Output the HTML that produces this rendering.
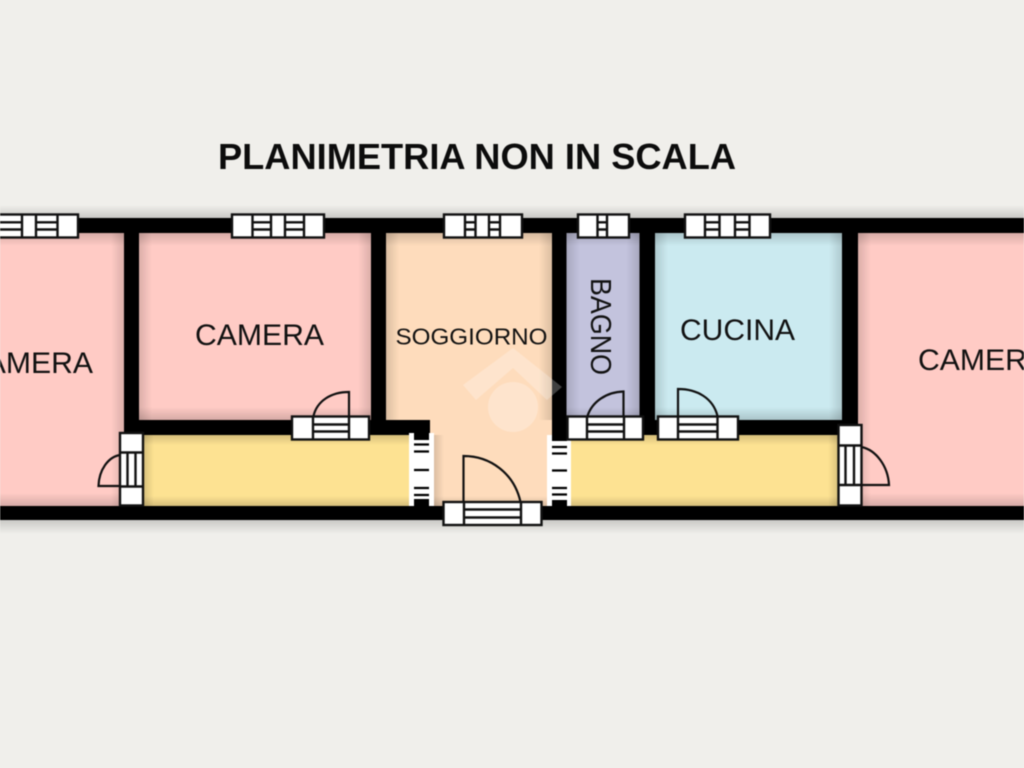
<!DOCTYPE html>
<html><head><meta charset="utf-8"><style>
html,body{margin:0;padding:0;background:#f0efeb;width:1024px;height:768px;overflow:hidden}
svg{display:block;font-family:"Liberation Sans",sans-serif;filter:blur(.45px)}
</style></head><body>
<svg width="1024" height="768" viewBox="0 0 1024 768">
<defs>
<linearGradient id="td" x1="0" y1="0" x2="0" y2="1"><stop offset="0" stop-color="#000" stop-opacity=".16"/><stop offset="1" stop-color="#000" stop-opacity="0"/></linearGradient>
<linearGradient id="tu" x1="0" y1="1" x2="0" y2="0"><stop offset="0" stop-color="#000" stop-opacity=".16"/><stop offset="1" stop-color="#000" stop-opacity="0"/></linearGradient>
<linearGradient id="tr" x1="0" y1="0" x2="1" y2="0"><stop offset="0" stop-color="#000" stop-opacity=".14"/><stop offset="1" stop-color="#000" stop-opacity="0"/></linearGradient>
<linearGradient id="tl" x1="1" y1="0" x2="0" y2="0"><stop offset="0" stop-color="#000" stop-opacity=".14"/><stop offset="1" stop-color="#000" stop-opacity="0"/></linearGradient>
</defs>
<rect width="1024" height="768" fill="#f0efeb"/>
<rect x="-5" y="205" width="1034" height="13" fill="url(#tu)"/>
<rect x="-5" y="520" width="1034" height="14" fill="url(#td)"/>
<rect x="-5" y="218" width="1034" height="302" fill="#000"/>
<!-- floors -->
<rect x="-5" y="233" width="129" height="273" fill="#ffcbc5"/>
<rect x="139" y="233" width="232" height="187" fill="#ffcbc5"/>
<rect x="144" y="435" width="267" height="71" fill="#fde292"/>
<path d="M386 233H552V506H430V420H386Z" fill="#fedcbc"/>
<rect x="566.500" y="233" width="73" height="187" fill="#c3c3dd"/>
<rect x="655" y="233" width="187" height="187" fill="#cbeaf0"/>
<rect x="570" y="435" width="268" height="71" fill="#fde292"/>
<rect x="858" y="233" width="172" height="273" fill="#ffcbc5"/>
<!-- inner shadows -->
<g>
<rect x="-5" y="233" width="129" height="13" fill="url(#td)"/><rect x="-5" y="493" width="129" height="13" fill="url(#tu)"/><rect x="111" y="233" width="13" height="273" fill="url(#tl)"/>
<rect x="139" y="233" width="232" height="13" fill="url(#td)"/><rect x="139" y="407" width="232" height="13" fill="url(#tu)"/><rect x="139" y="233" width="13" height="187" fill="url(#tr)"/><rect x="358" y="233" width="13" height="187" fill="url(#tl)"/>
<rect x="144" y="435" width="267" height="10" fill="url(#td)"/><rect x="144" y="496" width="267" height="10" fill="url(#tu)"/><rect x="144" y="435" width="10" height="71" fill="url(#tr)"/>
<rect x="386" y="233" width="166" height="13" fill="url(#td)"/><rect x="386" y="233" width="13" height="187" fill="url(#tr)"/><rect x="539" y="233" width="13" height="187" fill="url(#tl)"/><rect x="430" y="496" width="117" height="10" fill="url(#tu)"/><rect x="434" y="435" width="10" height="71" fill="url(#tr)"/>
<rect x="566.500" y="233" width="73" height="13" fill="url(#td)"/><rect x="566.500" y="407" width="73" height="13" fill="url(#tu)"/><rect x="566.500" y="233" width="13" height="187" fill="url(#tr)"/><rect x="626.500" y="233" width="13" height="187" fill="url(#tl)"/>
<rect x="655" y="233" width="187" height="13" fill="url(#td)"/><rect x="655" y="407" width="187" height="13" fill="url(#tu)"/><rect x="655" y="233" width="13" height="187" fill="url(#tr)"/><rect x="829" y="233" width="13" height="187" fill="url(#tl)"/>
<rect x="570" y="435" width="268" height="10" fill="url(#td)"/><rect x="570" y="496" width="268" height="10" fill="url(#tu)"/><rect x="828" y="435" width="10" height="71" fill="url(#tl)"/>
<rect x="858" y="233" width="172" height="13" fill="url(#td)"/><rect x="858" y="493" width="172" height="13" fill="url(#tu)"/><rect x="858" y="233" width="13" height="273" fill="url(#tr)"/>
</g>
<!-- walls -->
<path d="M-5 218H1030V233H-5ZM-5 506H1030V520H-5ZM124 218H139V506H124ZM371 218H386V435H371ZM552 218H566.500V435H552ZM639.500 218H655V435H639.500ZM842 218H858V435H842ZM124 420H429V435H124ZM566 420H858V435H566Z" fill="#000"/>
<!-- watermark -->
<g fill="#fff" opacity=".25"><path d="M463 385L513 348L562 387L547 400L513 368L476 400Z"/><circle cx="513" cy="407" r="25"/></g>
<!-- wall gaps -->
<g>
<rect x="409" y="433" width="25" height="73" fill="#fff"/>
<rect x="414" y="433" width="15" height="7" fill="#000"/>
<rect x="414" y="499" width="15" height="7" fill="#000"/>
<path d="M414 444.500H429M414 451.500H429M414 470H429M414 488H429M414 495H429" stroke="#000" stroke-width="2.200"/>
<rect x="547" y="435" width="24" height="71" fill="#fff"/>
<rect x="552" y="435" width="15" height="6" fill="#000"/>
<rect x="552" y="500" width="15" height="6" fill="#000"/>
<path d="M552 447H567M552 453.500H567M552 470.500H567M552 488H567M552 494.500H567" stroke="#000" stroke-width="2.200"/>
</g>
<g fill="#fff" stroke="#111" stroke-width="2.400">
<!-- window 1 -->
<rect x="-6" y="214.500" width="84" height="23"/>
<path d="M-6 222.300H22M-6 229.500H22M36.500 222.300H57M36.500 229.500H57M22 214.500V237.500M36 214.500V237.500M57.500 214.500V237.500" fill="none"/>
<!-- window 2 -->
<rect x="232" y="214.500" width="92" height="23"/>
<path d="M252.500 214.500V237.500M271 214.500V237.500M285 214.500V237.500M304 214.500V237.500M252.500 222.300H271M252.500 229.500H271M285 222.300H304M285 229.500H304" fill="none"/>
<!-- window 3 -->
<rect x="444" y="214.500" width="78" height="23"/>
<path d="M465 214.500V237.500M475.500 214.500V237.500M489 214.500V237.500M500 214.500V237.500M465 222.300H475.500M465 229.500H475.500M489 222.300H500M489 229.500H500" fill="none"/>
<!-- window 4 -->
<rect x="578" y="214.500" width="51" height="23"/>
<path d="M597.500 214.500V237.500M607 214.500V237.500M597.500 222.300H607M597.500 229.500H607" fill="none"/>
<!-- window 5 -->
<rect x="685" y="214.500" width="85" height="23"/>
<path d="M705 214.500V237.500M719.500 214.500V237.500M735 214.500V237.500M749.500 214.500V237.500M705 222.300H719.500M705 229.500H719.500M735 222.300H749.500M735 229.500H749.500" fill="none"/>
<!-- doors -->
<rect x="292" y="416.500" width="77" height="23"/>
<path d="M313 416.500V439.500M349 416.500V439.500M313 424.500H349M313 431.500H349" fill="none"/>
<rect x="567.500" y="416.500" width="75.500" height="23"/>
<path d="M587 416.500V439.500M624 416.500V439.500M587 424.500H624M587 431.500H624" fill="none"/>
<rect x="658" y="416.500" width="80" height="23"/>
<path d="M678 416.500V439.500M717.500 416.500V439.500M678 424.500H717.500M678 431.500H717.500" fill="none"/>
<rect x="443.500" y="502" width="98" height="23"/>
<path d="M464 502V525M521 502V525M464 509.500H521M464 517.500H521" fill="none"/>
<rect x="120" y="433" width="23" height="72.500"/>
<path d="M120 452.500H143M120 486.500H143M127.500 452.500V486.500M135.500 452.500V486.500" fill="none"/>
<rect x="838.500" y="425" width="23" height="80.500"/>
<path d="M838.500 445.500H861.500M838.500 485H861.500M845.500 445.500V485M854 445.500V485" fill="none"/>
</g>
<!-- swings -->
<g fill="none" stroke="#111" stroke-width="2.200">
<path d="M349 416V392C331 392 317 401 313.500 416"/>
<path d="M623.500 416V391.500C606 392 592 402 587.500 416"/>
<path d="M678 416V389C697 389 713 398 717.500 416"/>
<path d="M463.500 502V456C490 456 514 473 520.500 502"/>
<path d="M120 486H98.500C99 470 108 457 120 455"/>
<path d="M861.500 485H889C888 466 876 450 861.500 447"/>
</g>
<!-- labels -->
<g fill="#111" font-size="30">
<text x="-36" y="373" textLength="129" lengthAdjust="spacingAndGlyphs">CAMERA</text>
<text x="195" y="345" textLength="129" lengthAdjust="spacingAndGlyphs">CAMERA</text>
<text x="395.500" y="344.500" font-size="23" textLength="152" lengthAdjust="spacingAndGlyphs">SOGGIORNO</text>
<text x="680" y="340" textLength="115" lengthAdjust="spacingAndGlyphs">CUCINA</text>
<text x="918" y="370" textLength="129" lengthAdjust="spacingAndGlyphs">CAMERA</text>
<text transform="translate(591 278) rotate(90)" font-size="29" textLength="97" lengthAdjust="spacingAndGlyphs">BAGNO</text>
<text x="218" y="169" font-size="36" font-weight="bold" textLength="518" lengthAdjust="spacingAndGlyphs" fill="#0c0c0c">PLANIMETRIA NON IN SCALA</text>
</g>
</svg>
</body></html>
